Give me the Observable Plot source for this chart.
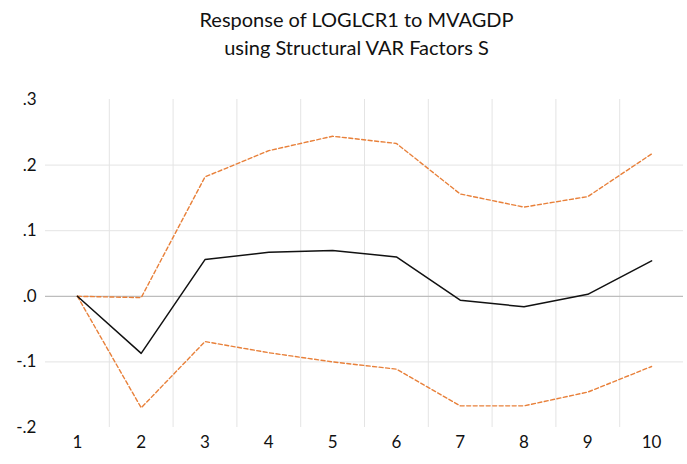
<!DOCTYPE html>
<html>
<head>
<meta charset="utf-8">
<script src="https://cdn.jsdelivr.net/npm/d3@7"></script>
<script src="https://cdn.jsdelivr.net/npm/@observablehq/plot@0.6"></script>
<style>
  body { margin: 0; background: #fff; font-family: Lato, "Open Sans", sans-serif; }
  #title { height: 75px; width: 687px; text-align: center; font-size: 20px; color: #111; line-height: 28px; padding-top: 5px; box-sizing: border-box; padding-left: 26px; }
</style>
</head>
<body>
<div id="title">Response of LOGLCR1 to MVAGDP<br>using Structural VAR Factors S</div>
<div id="chart"></div>
<script>
const periods = [1, 2, 3, 4, 5, 6, 7, 8, 9, 10];
const response = [0.0, -0.087, 0.056, 0.067, 0.070, 0.060, -0.006, -0.016, 0.003, 0.054];
const upper = [0.0, -0.002, 0.182, 0.222, 0.244, 0.233, 0.156, 0.136, 0.152, 0.217];
const lower = [0.0, -0.170, -0.069, -0.086, -0.100, -0.111, -0.167, -0.167, -0.146, -0.107];
const yTicks = [-0.2, -0.1, 0.0, 0.1, 0.2, 0.3];
const yLabels = ["-.2", "-.1", ".0", ".1", ".2", ".3"];
const bounds = periods.slice(0, -1).map(p => p + 0.5);

const mk = arr => periods.map((p, i) => ({x: p, y: arr[i]}));

const chart = Plot.plot({
  width: 687,
  height: 389,
  marginTop: 24,
  marginBottom: 37,
  marginLeft: 45,
  marginRight: 4,
  style: {fontFamily: "Lato, 'Open Sans', sans-serif", fontSize: "17px", color: "#111", background: "#fff"},
  x: {domain: [0.5, 10.5], ticks: periods, tickFormat: d => String(d), tickSize: 0, tickPadding: 8, label: null},
  y: {domain: [-0.2, 0.3], ticks: yTicks, tickFormat: d => yLabels[yTicks.findIndex(t => Math.abs(t - d) < 1e-9)], tickSize: 0, tickPadding: 9, label: null},
  marks: [
    Plot.ruleX(bounds, {stroke: "#e4e4e4", strokeWidth: 1}),
    Plot.ruleY([-0.1, 0.1, 0.2], {stroke: "#e4e4e4", strokeWidth: 1}),
    Plot.ruleY([0], {stroke: "#bdbdbd", strokeWidth: 1.2}),
    Plot.line(mk(upper), {x: "x", y: "y", stroke: "#E8803A", strokeWidth: 1.4, strokeDasharray: "4,2.5"}),
    Plot.line(mk(lower), {x: "x", y: "y", stroke: "#E8803A", strokeWidth: 1.4, strokeDasharray: "4,2.5"}),
    Plot.line(mk(response), {x: "x", y: "y", stroke: "#111", strokeWidth: 1.5})
  ]
});
document.getElementById("chart").appendChild(chart);
</script>
</body>
</html>
